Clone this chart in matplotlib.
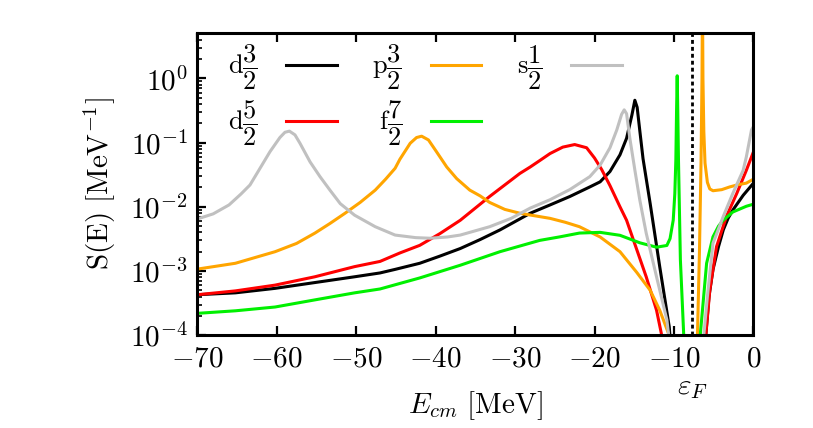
import matplotlib
matplotlib.use("Agg")
import matplotlib.pyplot as plt
from matplotlib.ticker import FixedLocator, FixedFormatter, LogLocator, NullFormatter, NullLocator

plt.rcParams['mathtext.fontset'] = 'cm'
plt.rcParams['font.family'] = ['DejaVu Serif']

# ---- data ----
x_d32 = [-70, -65.2, -60.2, -55.2, -50.2, -47.0, -45.1, -42.0, -39.5, -36.9, -34.4, -31.9, -28.1,
         -25.6, -23.1, -20.6, -19.3, -18.06, -16.8, -15.97, -15.3, -14.93, -14.64, -14.3, -13.9,
         -13.0, -11.8, -10.6, -10.2,
         -8.0, -6.3, -6.0, -5.6, -5.1, -4.4, -3.8, -3.2, -2.6, -1.3, 0.0]
y_d32 = [4.27e-4, 4.57e-4, 5.37e-4, 6.61e-4, 8.13e-4, 9.33e-4, 1.06e-3, 1.32e-3, 1.70e-3, 2.24e-3, 3.09e-3, 4.37e-3, 7.94e-3,
         1.07e-2, 1.45e-2, 2.04e-2, 2.45e-2, 3.55e-2, 6.46e-2, 0.117, 0.269, 0.457, 0.355, 0.151, 5.62e-2,
         1.12e-2, 1.17e-3, 1.35e-4, 3.2e-5,
         1e-6, 3e-5, 1e-4, 4e-4, 1.05e-3, 2.4e-3, 4.37e-3, 6.6e-3, 8.9e-3, 1.51e-2, 2.34e-2]

x_d52 = [-70, -65.2, -60.2, -55.2, -50.2, -47.0, -44.5, -42.0, -39.5, -36.9, -33.2, -31.3, -29.4,
         -28.1, -26.9, -25.6, -24.0, -22.5, -21.0, -20.0, -19.1, -18.06, -16.8, -15.97, -15.1,
         -13.5, -12.2, -11.6, -11.2,
         -8.0, -6.3, -6.0, -5.5, -4.65, -3.4, -2.1, -0.9, 0.0]
y_d52 = [4.27e-4, 4.90e-4, 6.03e-4, 8.13e-4, 1.17e-3, 1.41e-3, 1.91e-3, 2.51e-3, 3.80e-3, 6.17e-3, 1.45e-2, 2.19e-2, 3.31e-2,
         4.17e-2, 5.25e-2, 6.76e-2, 8.51e-2, 9.33e-2, 8.32e-2, 5.75e-2, 3.80e-2, 2.14e-2, 1.0e-2, 6.17e-3, 3.02e-3,
         8.13e-4, 2.45e-4, 1.07e-4, 3.2e-5,
         1e-6, 3e-5, 1e-4, 5e-4, 2.4e-3, 7.1e-3, 1.62e-2, 3.7e-2, 7.2e-2]

x_p32 = [-70, -65.2, -60.2, -57.5, -55.2, -53.3, -51.4, -49.5, -47.6, -46.3, -45.1, -44.5, -43.2,
         -42.4, -41.76, -40.9, -39.9, -38.6, -37.35, -35.7, -34.4, -33.2, -31.3, -29.4, -27.5,
         -25.6, -23.7, -21.9, -19.3, -16.8, -14.7, -13.0, -11.8, -10.7, -10.2,
         -8.5, -7.4, -7.05, -6.8, -6.6, -6.48, -6.42, -6.36, -6.25, -6.1, -5.8, -5.5, -5.1,
         -4.0, -3.0, -2.0, -0.9, 0.0]
y_p32 = [1.07e-3, 1.32e-3, 2.0e-3, 2.69e-3, 3.89e-3, 5.5e-3, 7.94e-3, 1.17e-2, 1.82e-2, 2.69e-2, 3.98e-2, 5.5e-2, 9.77e-2,
         0.120, 0.126, 0.110, 7.24e-2, 4.17e-2, 2.75e-2, 1.82e-2, 1.48e-2, 1.17e-2, 9.12e-3, 7.94e-3, 7.24e-3,
         6.61e-3, 5.75e-3, 4.90e-3, 3.39e-3, 2.0e-3, 9.55e-4, 5.01e-4, 2.45e-4, 1.07e-4, 3.2e-5,
         1e-6, 2e-5, 1e-4, 2e-3, 5e-2, 1.0, 20.0, 1.0, 0.15, 4.8e-2, 2.4e-2, 1.9e-2, 1.78e-2,
         1.85e-2, 2.04e-2, 2.2e-2, 2.34e-2, 2.7e-2]

x_f72 = [-70, -65.2, -60.2, -55.2, -50.2, -47.0, -42.0, -36.9, -31.9, -26.9, -24.4, -21.9, -19.3,
         -16.8, -14.3, -12.2, -10.9, -10.5, -10.1, -9.9, -9.77, -9.68, -9.6, -9.53, -9.44, -9.2,
         -8.77, -8.5,
         -7.8, -6.7, -5.9, -5.1, -4.4, -3.8, -2.6, -0.9, 0.0]
y_f72 = [2.19e-4, 2.4e-4, 2.75e-4, 3.55e-4, 4.57e-4, 5.25e-4, 7.8e-4, 1.23e-3, 2.0e-3, 3.0e-3, 3.4e-3, 3.9e-3, 4.0e-3,
         3.6e-3, 2.75e-3, 2.35e-3, 2.5e-3, 3.2e-3, 6.2e-3, 1.6e-2, 5.4e-2, 0.32, 1.1, 0.32, 5.4e-2, 1.5e-3,
         9.5e-5, 2.5e-5,
         1e-6, 1e-4, 1.32e-3, 3.4e-3, 5.0e-3, 6.2e-3, 8.3e-3, 1.02e-2, 1.1e-2]

x_s12 = [-70, -68, -66, -64.5, -63.36, -62.1, -60.84, -59.6, -58.96, -58.4, -57.7, -57.07, -55.8,
         -54.55, -53.3, -52.0, -50.2, -47.6, -45.1, -42.5, -40.7, -38.5, -36.9, -33.2, -30.5,
         -28.1, -25.6, -23.1, -20.6, -19.3, -18.06, -17.2, -16.6, -16.27, -15.97, -15.56, -14.9,
         -14.3, -13.5, -12.2, -10.9, -10.4,
         -8.0, -7.0, -6.25, -5.8, -5.1, -3.8, -2.6, -1.3, -0.9, -0.25, 0.0]
y_s12 = [6.46e-3, 7.76e-3, 1.07e-2, 1.58e-2, 2.19e-2, 3.98e-2, 7.24e-2, 0.120, 0.145, 0.151, 0.132, 9.77e-2, 5.01e-2,
         2.95e-2, 1.82e-2, 1.12e-2, 7.41e-3, 4.90e-3, 3.63e-3, 3.31e-3, 3.24e-3, 3.39e-3, 3.63e-3, 4.90e-3, 6.61e-3,
         9.55e-3, 1.29e-2, 1.86e-2, 2.95e-2, 4.47e-2, 8.32e-2, 0.158, 0.275, 0.324, 0.282, 0.117, 3.55e-2,
         1.26e-2, 3.89e-3, 8.13e-4, 1.74e-4, 5.0e-5,
         1e-6, 1e-5, 1e-4, 4e-4, 2.7e-3, 7.1e-3, 1.62e-2, 3.7e-2, 6.0e-2, 0.158, 0.178]

labels = [r'$\mathrm{d}\dfrac{3}{2}$', r'$\mathrm{d}\dfrac{5}{2}$', r'$\mathrm{p}\dfrac{3}{2}$',
          r'$\mathrm{f}\dfrac{7}{2}$', r'$\mathrm{s}\dfrac{1}{2}$']
colors = ['black', '#ff0000', '#ffa500', '#00f000', '#c0c0c0']

e_fermi = -7.7
xticks = [-70, -60, -50, -40, -30, -20, -10, 0]
xticklabels = [r'$-70$', r'$-60$', r'$-50$', r'$-40$', r'$-30$', r'$-20$', r'$-10$', r'$0$']
yticks = [1e-4, 1e-3, 1e-2, 1e-1, 1e0]
yticklabels = [r'$10^{-4}$', r'$10^{-3}$', r'$10^{-2}$', r'$10^{-1}$', r'$10^{0}$']

# ---- figure ----
fig = plt.figure(figsize=(8.13, 4.28), dpi=100)
ax = fig.add_axes([0.2426, 0.2168, 0.9268 - 0.2426, 0.9229 - 0.2168])

series = [(x_d32, y_d32), (x_d52, y_d52), (x_p32, y_p32), (x_f72, y_f72), (x_s12, y_s12)]
for (xs, ys), lab, c in zip(series, labels, colors):
    ax.plot(xs, ys, color=c, lw=2.2, label=lab)

ax.axvline(e_fermi, color='black', lw=2.0, dashes=(1.4, 1.1))

ax.set_yscale('log')
ax.set_xlim(-70, 0)
ax.set_ylim(1e-4, 5.1)

ax.xaxis.set_major_locator(FixedLocator(xticks))
ax.xaxis.set_major_formatter(FixedFormatter(xticklabels))
ax.xaxis.set_minor_locator(NullLocator())
ax.yaxis.set_major_locator(FixedLocator(yticks))
ax.yaxis.set_major_formatter(FixedFormatter(yticklabels))
ax.yaxis.set_minor_locator(LogLocator(base=10, subs=range(2, 10), numticks=20))
ax.yaxis.set_minor_formatter(NullFormatter())

ax.tick_params(axis='both', which='major', direction='in', length=6.5, width=1.6,
               labelsize=21, pad=7)
ax.tick_params(axis='y', which='minor', direction='in', length=3.5, width=1.2)
ax.tick_params(axis='x', top=True, bottom=True)
ax.tick_params(axis='y', left=True, right=False)
for s in ax.spines.values():
    s.set_linewidth(2.2)

ax.set_xlabel(r'$E_{cm}\ [\mathrm{MeV}]$', fontsize=21, labelpad=12)
ax.set_ylabel(r'$\mathrm{S(E)}\ [\mathrm{MeV}^{-1}]$', fontsize=21, labelpad=8)

ax.annotate(r'$\varepsilon_F$', xy=(e_fermi, 0), xycoords=('data', 'axes fraction'),
            xytext=(0, -37), textcoords='offset points', ha='center', va='center', fontsize=21)

leg = ax.legend(ncol=3, loc='upper left', bbox_to_anchor=(0.026, 1.02), frameon=False,
                markerfirst=False, fontsize=19, handlelength=1.9, handletextpad=1.1,
                columnspacing=1.35, labelspacing=0.25, borderaxespad=0.2)

fig.savefig('out.png', dpi=100)
